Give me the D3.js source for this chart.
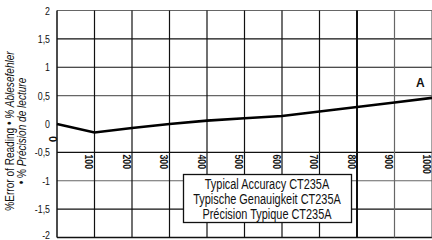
<!DOCTYPE html>
<html>
<head>
<meta charset="utf-8">
<script src="https://cdn.jsdelivr.net/npm/d3@7"></script>
<style>
  body { margin: 0; background: #fff; }
  svg text { font-family: "Liberation Sans", Arial, sans-serif; fill: #111; }
</style>
</head>
<body>
<script>
"use strict";
// readings along the scale and the typical error in % of reading
const readings = [0, 100, 200, 300, 400, 500, 600, 700, 800, 900, 1000];
const errorA = [0, -0.15, -0.07, 0, 0.06, 0.1, 0.14, 0.22, 0.3, 0.38, 0.46];
const yTicks = [2, 1.5, 1, 0.5, 0, -0.5, -1, -1.5, -2];
const yGrid = [2, 1.5, 1, 0.5, -0.5, -1, -1.5, -2];
const xTicks = [100, 200, 300, 400, 500, 600, 700, 800, 900, 1000];
const legendLines = ["Typical Accuracy CT235A", "Typische Genauigkeit CT235A", "Précision Typique CT235A"];
const seriesLabel = "A";

const W = 432, H = 240;
const svg = d3.select("body").append("svg").attr("width", W).attr("height", H);

// squeeze text horizontally, the original uses a condensed face
function condense(sel, f) {
  sel.each(function() {
    const w = this.getComputedTextLength();
    d3.select(this).attr("textLength", w * f).attr("lengthAdjust", "spacingAndGlyphs");
  });
}

// scales
const x = d3.scaleLinear().domain([0, 1000]).range([57, 432]);
const y = d3.scaleLinear().domain([-2, 2]).range([237.5, 10.5]);
const fmt = d => String(d).replace(".", ",");

// horizontal grid
const greyH = [2, 0.5, -1];
svg.append("g").selectAll("line").data(yGrid).enter().append("line")
  .attr("x1", x(0)).attr("x2", x(1000))
  .attr("y1", d => y(d)).attr("y2", d => y(d))
  .attr("stroke", d => greyH.includes(d) ? "#666" : "#111")
  .attr("stroke-width", d => d === -2 ? 1.6 : 1.2);

// vertical grid
const greyV = [900, 1000];
svg.append("g").selectAll("line").data(xTicks).enter().append("line")
  .attr("x1", d => x(d)).attr("x2", d => x(d))
  .attr("y1", y(2)).attr("y2", y(-2))
  .attr("stroke", d => greyV.includes(d) ? "#666" : "#111")
  .attr("stroke-width", d => d === 800 ? 2 : 1.2);

// left axis line
svg.append("line")
  .attr("x1", x(0)).attr("x2", x(0)).attr("y1", y(2)).attr("y2", y(-2))
  .attr("stroke", "#111").attr("stroke-width", 1.5);

// y tick labels
const yl = svg.append("g").selectAll("text").data(yTicks).enter().append("text")
  .attr("x", 50).attr("y", d => Math.min(y(d) + 4, 239))
  .attr("text-anchor", "end").attr("font-size", 11)
  .text(fmt);
condense(yl, 0.8);

// x tick labels, rotated
const xl = svg.append("g").selectAll("text").data(xTicks).enter().append("text")
  .attr("transform", d => "translate(" + (x(d) - 9.5) + "," + (y(-0.5) + 2) + ") rotate(90)")
  .attr("font-size", 11).attr("font-weight", "bold")
  .text(d => d);
condense(xl, 0.8);
svg.append("text")
  .attr("transform", "translate(" + (x(0) - 8) + "," + (y(0) + 12) + ") rotate(90)")
  .attr("font-size", 11).attr("font-weight", "bold")
  .text(readings[0]);

// y axis title
const title = svg.append("text")
  .attr("transform", "translate(14,131) rotate(-90)")
  .attr("text-anchor", "middle").attr("font-size", 12);
title.append("tspan").text("%Error of Reading • ");
title.append("tspan").attr("font-style", "italic").text("% Ablesefehler");
condense(title, 0.84);
const title2 = svg.append("text")
  .attr("transform", "translate(26,131) rotate(-90)")
  .attr("text-anchor", "middle").attr("font-size", 12);
title2.append("tspan").text("• % ");
title2.append("tspan").attr("font-style", "italic").text("Précision de lecture");
condense(title2, 0.84);

// the curve
const line = d3.line().x((d, i) => x(readings[i])).y(d => y(d));
svg.append("path").datum(errorA)
  .attr("d", line)
  .attr("fill", "none").attr("stroke", "#000").attr("stroke-width", 2.6);

svg.append("text")
  .attr("x", x(957)).attr("y", y(0.65))
  .attr("font-size", 12).attr("font-weight", "bold")
  .text(seriesLabel);

// legend box
const lg = svg.append("g");
lg.append("rect")
  .attr("x", 183.5).attr("y", 174.5).attr("width", 168).attr("height", 48)
  .attr("fill", "#fff").attr("stroke", "#111").attr("stroke-width", 1.3);
const lt = lg.selectAll("text").data(legendLines).enter().append("text")
  .attr("x", 267).attr("y", (d, i) => 189 + i * 15)
  .attr("text-anchor", "middle").attr("font-size", 14)
  .text(d => d);
condense(lt, 0.78);
</script>
</body>
</html>
